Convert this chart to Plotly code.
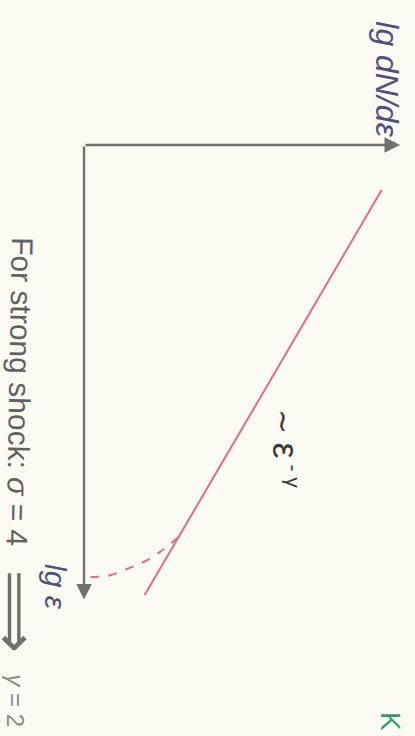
import plotly.graph_objects as go

# Schematic power-law spectrum from diffusive shock acceleration,
# drawn in log-log units: x = lg dN/dε, y = lg ε (increasing downward).
GAMMA = 2.0          # spectral index for a strong shock (σ = 4)
NORM = 24.6          # lg dN/dε intercept of the power law

lg_eps_line = [1.0, 10.0]
lg_dnde_line = [NORM - GAMMA * e for e in lg_eps_line]

# turnover of the spectrum at high energy (dashed)
lg_eps_cut = [8.71, 9.04, 9.27, 9.42, 9.56, 9.60, 9.62]
lg_dnde_cut = [7.18, 5.77, 4.48, 3.26, 1.97, 0.68, 0.0]

# axis extents
lg_dnde_axis_max = 24.0
lg_eps_axis_max = 10.1

LINE_RED = "#df6d88"
AXIS_GREY = "#707070"
LABEL_BLUE = "#50507e"
BG = "#fbfbf3"
FONT = "Liberation Sans, Arial, sans-serif"

fig = go.Figure()

fig.add_trace(go.Scatter(
    x=lg_dnde_line, y=lg_eps_line, mode="lines",
    line=dict(color=LINE_RED, width=2), hoverinfo="skip", showlegend=False,
))
fig.add_trace(go.Scatter(
    x=lg_dnde_cut, y=lg_eps_cut, mode="lines",
    line=dict(color=LINE_RED, width=2, dash="dash", shape="spline"),
    hoverinfo="skip", showlegend=False,
))

annotations = []

# axes with arrowheads
for tip_x, tip_y in [(lg_dnde_axis_max, 0.0), (0.0, lg_eps_axis_max)]:
    annotations.append(dict(
        x=tip_x, y=tip_y, ax=0.0, ay=0.0, xref="x", yref="y",
        axref="x", ayref="y", text="", showarrow=True,
        arrowhead=2, arrowsize=1.3, arrowwidth=2.4, arrowcolor=AXIS_GREY,
        standoff=0, startstandoff=0,
    ))

def label(text, x, y, size, color, italic=False, angle=90):
    annotations.append(dict(
        x=x, y=y, xref="x", yref="y", text=text, showarrow=False,
        textangle=angle, xanchor="center", yanchor="middle",
        font=dict(family=FONT, size=size, color=color,
                  style="italic" if italic else "normal"),
    ))

label("lg dN/dε", 23.0, -1.46, 32, LABEL_BLUE, italic=True)
label("lg ε", -2.13, 9.82, 30, LABEL_BLUE, italic=True)
label("∼ <span style='font-size:36px'>ε</span><sup> - γ</sup>", 15.3, 6.75, 30, "#3a3a3a")
label("For strong shock: <i>σ</i> = 4", -4.86, 5.47, 30, "#606060", angle=91)
label("⟹", -5.15, 10.35, 58, "#707070", angle=90)
label("<i>γ</i> = 2", -5.2, 12.35, 24, "#8a8a8a", angle=90)
label("K", 23.31, 12.8, 28, "#2f9a6c", angle=90)

fig.update_layout(
    width=415, height=736,
    margin=dict(l=0, r=0, t=0, b=0),
    paper_bgcolor=BG, plot_bgcolor=BG,
    xaxis=dict(range=[-6.38, 25.13], visible=False, fixedrange=True),
    yaxis=dict(range=[13.13, -3.22], visible=False, fixedrange=True),
    annotations=annotations,
    showlegend=False,
)

fig.write_html("out.html")
